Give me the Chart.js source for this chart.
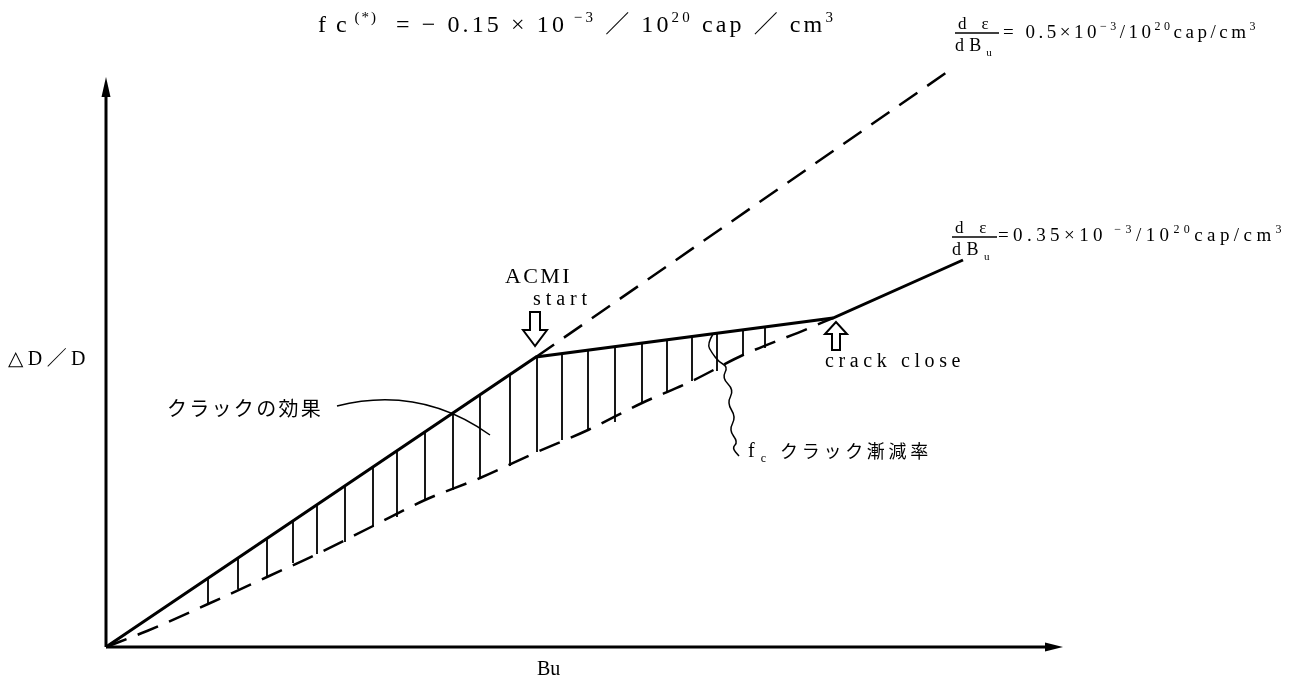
<!DOCTYPE html>
<html>
<head>
<meta charset="utf-8">
<script src="https://cdn.jsdelivr.net/npm/chart.js@4"></script>
<style>
  body { margin: 0; background: #fff; }
</style>
</head>
<body>
<canvas id="myChart" width="1291" height="684"></canvas>
<script>
// Bu along x, ΔD/D up y (arbitrary units, origin at 0,0)
const solidX = [0, 430, 727, 857];
const solidY = [0, 290, 329, 387];

// free swelling line, continued past ACMI start
const upperX = [430, 847];
const upperY = [290, 579];

// lower bound with crack effect, meets the solid line at crack close
const lowerX = [0, 41, 102, 161, 211, 267, 319, 374, 431, 482, 536, 586, 637, 701, 727];
const lowerY = [0, 16, 43, 70, 93, 121, 147, 169, 195, 217, 244, 266, 292, 318, 329];

// hatching between the two
const hatchX = [102, 132, 161, 187, 211, 239, 267, 291, 319, 347, 374, 404, 431, 456, 482, 509, 536, 561, 586, 611, 637, 659];
const hatchTop = [69, 89, 109, 126, 142, 161, 180, 196, 215, 234, 252, 272, 290, 293, 297, 300, 304, 307, 310, 314, 317, 320];
const hatchBottom = [43, 58, 70, 84, 93, 105, 121, 130, 147, 157, 169, 181, 195, 207, 217, 225, 244, 255, 266, 276, 292, 299];

const xAxisEnd = 956;
const yAxisEnd = 569;

const serif = '"Liberation Serif", "DejaVu Serif", "Noto Sans CJK JP", serif';
const jp = '"Noto Sans CJK JP", sans-serif';

function pts(xs, ys) {
  return xs.map((x, i) => ({ x: x, y: ys[i] }));
}

const hatchData = [];
hatchX.forEach((x, i) => {
  hatchData.push({ x: x, y: hatchTop[i] }, { x: x, y: hatchBottom[i] }, { x: x, y: null });
});

// text made of plain / sup / sub pieces, spread to a given width
function rich(ctx, parts, x, y, size, width, family) {
  family = family || serif;
  const fontFor = k => (k ? Math.round(size * 0.62) : size) + 'px ' + family;
  ctx.letterSpacing = '0px';
  let natural = 0, chars = 0;
  const widths = parts.map(([t, k]) => {
    ctx.font = fontFor(k);
    const w = ctx.measureText(t).width;
    natural += w;
    chars += [...t].length;
    return w;
  });
  const gap = width ? (width - natural) / chars : 0;
  ctx.letterSpacing = gap + 'px';
  let cx = x;
  parts.forEach(([t, k], i) => {
    ctx.font = fontFor(k);
    const dy = k === 'sup' ? -size * 0.42 : k === 'sub' ? size * 0.25 : 0;
    ctx.fillText(t, cx, y + dy);
    cx += widths[i] + gap * [...t].length;
  });
  ctx.letterSpacing = '0px';
}

function fraction(ctx, x, barY, w) {
  ctx.beginPath();
  ctx.moveTo(x, barY);
  ctx.lineTo(x + w, barY);
  ctx.lineWidth = 1.3;
  ctx.stroke();
  rich(ctx, [['d '], ['ε']], x + 3, barY - 4, 17, w - 8);
  rich(ctx, [['dB'], ['u', 'sub']], x, barY + 18, 18, w - 2);
}

function hollowArrow(ctx, cx, tip, dir, headLen, headHalf, shaftHalf, len) {
  // dir = 1 points down, -1 points up
  const base = tip - dir * headLen;
  const end = tip - dir * len;
  ctx.beginPath();
  ctx.moveTo(cx, tip);
  ctx.lineTo(cx - headHalf, base);
  ctx.lineTo(cx - shaftHalf, base);
  ctx.lineTo(cx - shaftHalf, end);
  ctx.lineTo(cx + shaftHalf, end);
  ctx.lineTo(cx + shaftHalf, base);
  ctx.lineTo(cx + headHalf, base);
  ctx.closePath();
  ctx.fillStyle = '#fff';
  ctx.fill();
  ctx.lineWidth = 2;
  ctx.stroke();
  ctx.fillStyle = '#000';
}

function smoothPath(ctx, p) {
  ctx.beginPath();
  ctx.moveTo(p[0][0], p[0][1]);
  for (let i = 1; i < p.length - 1; i++) {
    const mx = (p[i][0] + p[i + 1][0]) / 2;
    const my = (p[i][1] + p[i + 1][1]) / 2;
    ctx.quadraticCurveTo(p[i][0], p[i][1], mx, my);
  }
  const last = p[p.length - 1];
  ctx.lineTo(last[0], last[1]);
  ctx.stroke();
}

const notes = {
  id: 'notes',
  afterDatasetsDraw(chart) {
    const ctx = chart.ctx;
    const sx = chart.scales.x, sy = chart.scales.y;
    const ox = sx.getPixelForValue(0), oy = sy.getPixelForValue(0);
    ctx.save();
    ctx.fillStyle = '#000';
    ctx.strokeStyle = '#000';

    // axis arrowheads
    const ax = sx.getPixelForValue(xAxisEnd);
    ctx.beginPath();
    ctx.moveTo(ax + 1, oy);
    ctx.lineTo(ax - 17, oy - 4.5);
    ctx.lineTo(ax - 17, oy + 4.5);
    ctx.closePath();
    ctx.fill();
    const ay = sy.getPixelForValue(yAxisEnd);
    ctx.beginPath();
    ctx.moveTo(ox, ay - 1);
    ctx.lineTo(ox - 4.5, ay + 19);
    ctx.lineTo(ox + 4.5, ay + 19);
    ctx.closePath();
    ctx.fill();

    ctx.textBaseline = 'alphabetic';

    // title
    rich(ctx, [['f c'], [' (*)', 'sup']], 318, 32, 24, 60);
    rich(ctx, [['= − 0.15 × 10'], [' −3', 'sup'], [' ／ 10'], ['20', 'sup'], [' cap ／ cm'], ['3', 'sup']], 396, 32, 24, 440);

    // slope labels
    fraction(ctx, 955, 33, 44);
    rich(ctx, [['= 0.5×10'], ['−3', 'sup'], ['/10'], ['20', 'sup'], ['cap/cm'], ['3', 'sup']], 1003, 38, 19, 256);
    fraction(ctx, 952, 237, 45);
    rich(ctx, [['=0.35×10'], [' −3', 'sup'], ['/10'], ['20', 'sup'], ['cap/cm'], ['3', 'sup']], 998, 241, 19, 288);

    // axis names
    rich(ctx, [['△D／D']], 8, 365, 20, 82);
    rich(ctx, [['Bu']], 537, 675, 20, 0);

    // ACMI start
    rich(ctx, [['ACMI']], 505, 283, 22, 67);
    rich(ctx, [['start']], 533, 305, 20, 59);
    hollowArrow(ctx, 535, 346, 1, 16, 12, 5, 34);

    // crack close
    hollowArrow(ctx, 836, 322, -1, 12, 11, 4, 28);
    rich(ctx, [['crack close']], 825, 367, 20, 140);

    // crack effect with leader
    rich(ctx, [['クラックの効果']], 167, 416, 20, 156, jp);
    ctx.lineWidth = 1.5;
    ctx.beginPath();
    ctx.moveTo(337, 406);
    ctx.quadraticCurveTo(420, 385, 490, 435);
    ctx.stroke();

    // reduction rate with wavy leader
    smoothPath(ctx, [[713, 334], [707, 344], [712, 353], [719, 362], [728, 367], [722, 378], [734, 390],
      [727, 403], [736, 417], [729, 430], [738, 442], [732, 448], [739, 456]]);
    rich(ctx, [['f'], ['c', 'sub']], 748, 457, 20, 24);
    rich(ctx, [['クラック漸減率']], 780, 458, 18, 152, jp);

    ctx.restore();
  }
};

const line = { showLine: true, pointRadius: 0, borderColor: '#000', clip: false, fill: false };

new Chart(document.getElementById('myChart'), {
  type: 'scatter',
  data: {
    datasets: [
      { ...line, data: [{ x: 0, y: 0 }, { x: xAxisEnd - 10, y: 0 }], borderWidth: 3 },
      { ...line, data: [{ x: 0, y: 0 }, { x: 0, y: yAxisEnd - 10 }], borderWidth: 3 },
      { ...line, data: hatchData, borderWidth: 1.8 },
      { ...line, data: pts(lowerX, lowerY), borderWidth: 2.5, borderDash: [22, 12], cubicInterpolationMode: 'monotone' },
      { ...line, data: pts(upperX, upperY), borderWidth: 2.5, borderDash: [22, 12] },
      { ...line, data: pts(solidX, solidY), borderWidth: 3 }
    ]
  },
  options: {
    responsive: false,
    animation: false,
    layout: { padding: { left: 106, right: 185, top: 27, bottom: 37 } },
    scales: {
      x: { type: 'linear', min: 0, max: 1000, display: false },
      y: { type: 'linear', min: 0, max: 620, display: false }
    },
    plugins: { legend: { display: false }, tooltip: { enabled: false } }
  },
  plugins: [notes]
});
</script>
</body>
</html>
